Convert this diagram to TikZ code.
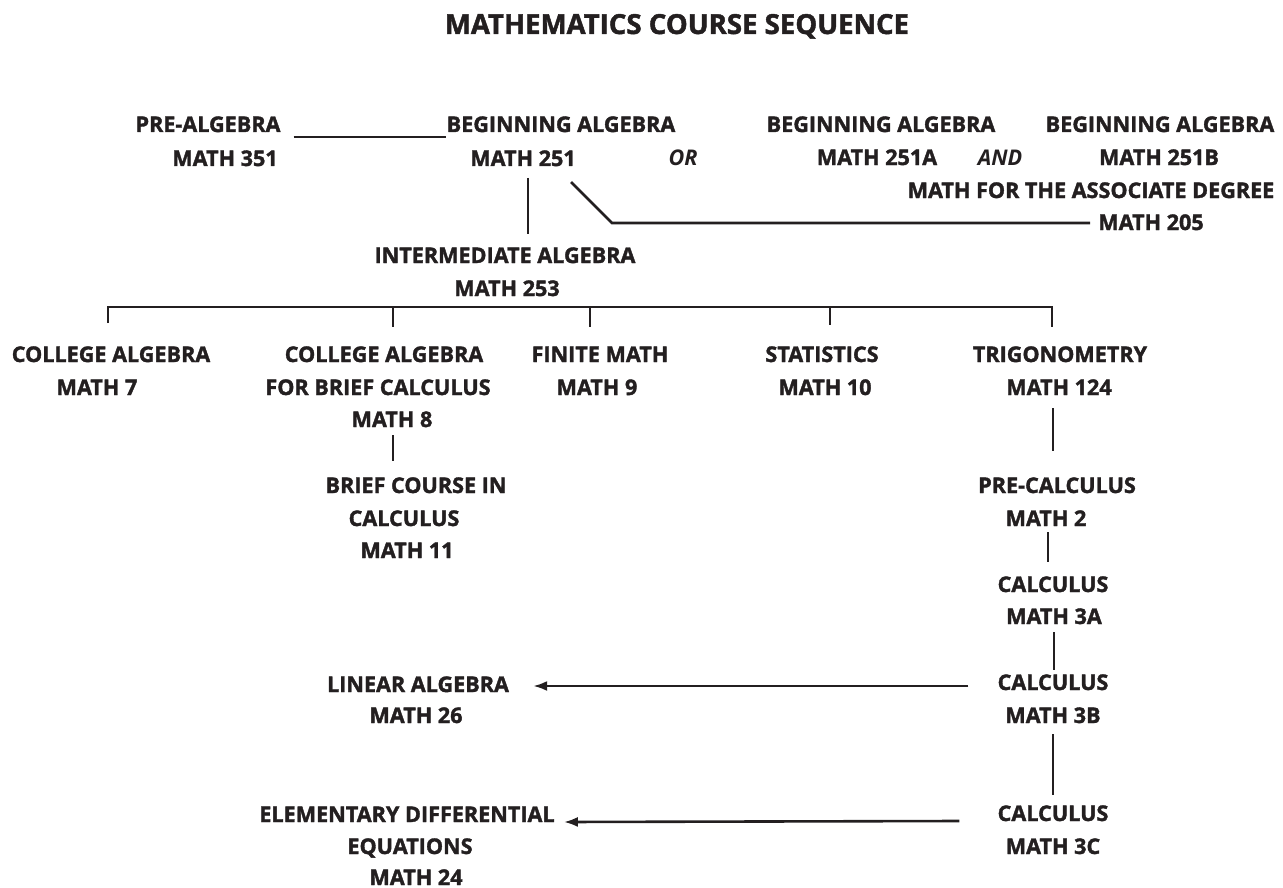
\documentclass[tikz,border=0pt]{standalone}
\usepackage{fontspec}
\setmainfont{Open Sans}[BoldFeatures={FakeBold=1.6}]
\usetikzlibrary{arrows.meta,calc}
\definecolor{ink}{HTML}{231F20}
\begin{document}
\begin{tikzpicture}[x=1pt,y=-1pt,
  t/.style={anchor=base,inner sep=0pt,text=ink,font=\fontsize{21.6}{21.6}\selectfont\bfseries},
  ti/.style={t,font=\fontsize{21.6}{21.6}\selectfont\bfseries\itshape},
  head/.style={anchor=base,inner sep=0pt,text=ink,font=\fontsize{27.6}{27.6}\selectfont\bfseries},
  link/.style={draw=ink,line width=2.6pt},
  arr/.style={link,-{Latex[length=14pt,width=10pt]}}]
\useasboundingbox (0,0) rectangle (1283,888);

% title
\node[head] (title) at (677,34) {MATHEMATICS COURSE SEQUENCE};

% top rows
\node[t] (pre1) at (208,132) {PRE-ALGEBRA};
\node[t] (pre2) at (225,166) {MATH 351};
\node[t] (beg1) at (561,132) {BEGINNING ALGEBRA};
\node[t] (beg2) at (523,166) {MATH 251};
\node[ti] (or) at (683,166) {OR};
\node[t] (bga1) at (881,132) {BEGINNING ALGEBRA};
\node[t] (bga2) at (877,165) {MATH 251A};
\node[ti] (and) at (1000,165) {AND};
\node[t] (bgb1) at (1160,132) {BEGINNING ALGEBRA};
\node[t] (bgb2) at (1159,165) {MATH 251B};
\node[t] (asc1) at (1091,198) {MATH FOR THE ASSOCIATE DEGREE};
\node[t] (asc2) at (1151,230) {MATH 205};
\node[t] (int1) at (505,263) {INTERMEDIATE ALGEBRA};
\node[t] (int2) at (507,296) {MATH 253};

% second level
\node[t] (ca1) at (111,362) {COLLEGE ALGEBRA};
\node[t] (ca2) at (97,395) {MATH 7};
\node[t] (cb1) at (384,362) {COLLEGE ALGEBRA};
\node[t] (cb2) at (378,395) {FOR BRIEF CALCULUS};
\node[t] (cb3) at (392,427) {MATH 8};
\node[t] (fm1) at (600,362) {FINITE MATH};
\node[t] (fm2) at (597,395) {MATH 9};
\node[t] (st1) at (822,362) {STATISTICS};
\node[t] (st2) at (825,395) {MATH 10};
\node[t] (tr1) at (1060,362) {TRIGONOMETRY};
\node[t] (tr2) at (1059,395) {MATH 124};

\node[t] (bc1) at (416,493) {BRIEF COURSE IN};
\node[t] (bc2) at (404,526) {CALCULUS};
\node[t] (bc3) at (407,558) {MATH 11};

\node[t] (pc1) at (1057,493) {PRE-CALCULUS};
\node[t] (pc2) at (1046,526) {MATH 2};
\node[t] (c3a1) at (1053,592) {CALCULUS};
\node[t] (c3a2) at (1054,624) {MATH 3A};
\node[t] (c3b1) at (1053,690) {CALCULUS};
\node[t] (c3b2) at (1053,723) {MATH 3B};
\node[t] (c3c1) at (1053,821) {CALCULUS};
\node[t] (c3c2) at (1053,854) {MATH 3C};

\node[t] (la1) at (418,692) {LINEAR ALGEBRA};
\node[t] (la2) at (416,723) {MATH 26};
\node[t] (de1) at (407,822) {ELEMENTARY DIFFERENTIAL};
\node[t] (de2) at (410,854) {EQUATIONS};
\node[t] (de3) at (416,885) {MATH 24};

% connectors, top
\draw[link] ([shift={(13,5)}]pre1.base east) -- ([shift={(-1,5)}]beg1.base west);
\draw[link] ([shift={(5,12)}]beg2.base) -- ([shift={(23,-13)}]int1.north);
\draw[link] ([shift={(48,16)}]beg2.base) -- ++(41,41) -- ([shift={(-8,-7)}]asc2.base west);

% bus
\coordinate (bus) at ([shift={(0,11)}]int2.base);
\coordinate (tA) at ([xshift=-3pt]ca1.north |- bus);
\coordinate (tB) at ([xshift=9pt]cb1.north |- bus);
\coordinate (tC) at ([xshift=-10pt]fm1.north |- bus);
\coordinate (tD) at ([xshift=8pt]st1.north |- bus);
\coordinate (tE) at ([xshift=-8pt]tr1.north |- bus);
\draw[link] ([shift={(0,16)}]tA) -- (tA) -- (tE) -- ([shift={(0,20)}]tE);
\draw[link] (tB) -- ++(0,20);
\draw[link] (tC) -- ++(0,20);
\draw[link] (tD) -- ++(0,18);

% lower verticals
\draw[link] ([shift={(1,8)}]cb3.base) -- ([shift={(-23,-16)}]bc1.north);
\draw[link] ([shift={(-6,13)}]tr2.base) -- ([shift={(-4,-26)}]pc1.north);
\draw[link] ([shift={(2,6)}]pc2.base) -- ([shift={(-5,-14)}]c3a1.north);
\draw[link] ([shift={(0,8)}]c3a2.base) -- ([shift={(1,-4)}]c3b1.north);
\draw[link] ([shift={(0,11)}]c3b2.base) -- ([shift={(0,-10)}]c3c1.north);

% arrows
\draw[arr] ([shift={(-29,-4)}]c3b1.base west) -- ([shift={(24,-6)}]la1.base east);
\draw[arr] ([shift={(-38,0)}]c3c1.base west) -- ([shift={(9,0)}]de1.base east);
\end{tikzpicture}
\end{document}
